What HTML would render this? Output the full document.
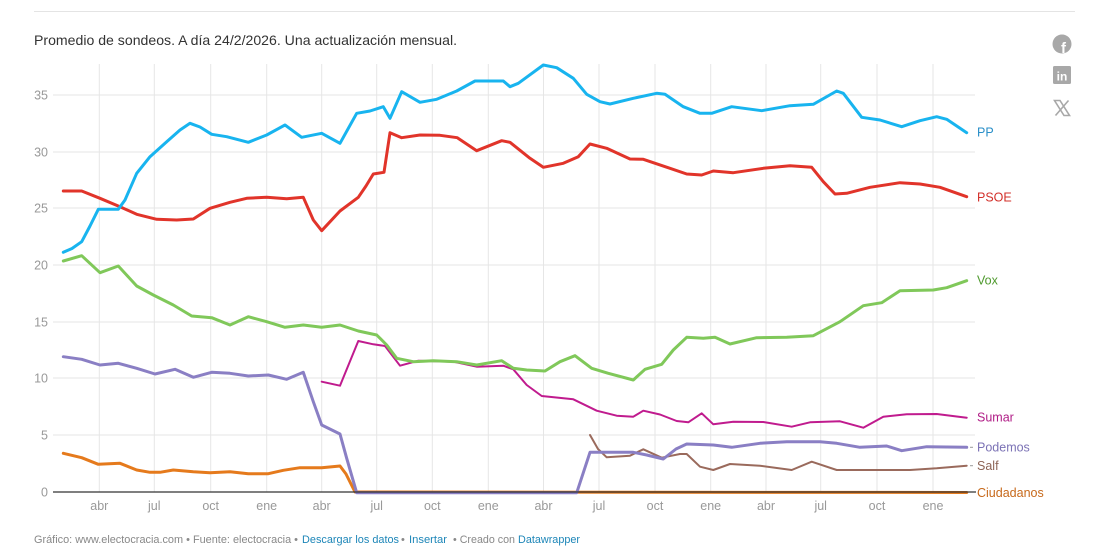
<!DOCTYPE html>
<html><head><meta charset="utf-8">
<style>
html,body{margin:0;padding:0;background:#fff;}
body{width:1119px;height:551px;overflow:hidden;}
svg{display:block;font-family:"Liberation Sans",Arial,sans-serif;}
.g{stroke:#e6e6e6;stroke-width:1;fill:none;}
.ax{fill:#999;font-size:12.5px;}
.ln{fill:none;stroke-linejoin:round;stroke-linecap:round;}
.lb{font-size:12.5px;}
</style></head>
<body>
<svg width="1119" height="551" viewBox="0 0 1119 551" xmlns="http://www.w3.org/2000/svg">
<line x1="34" y1="11.5" x2="1075" y2="11.5" stroke="#e4e4e4" stroke-width="1"/>
<text x="34" y="45" font-size="14" fill="#333" textLength="423" lengthAdjust="spacingAndGlyphs">Promedio de sondeos. A día 24/2/2026. Una actualización mensual.</text>

<!-- icons -->
<circle cx="1062" cy="44" r="9.5" fill="#a8a8a8"/>
<text x="1063.5" y="53" font-size="15" font-weight="bold" fill="#fff" text-anchor="middle">f</text>
<rect x="1053" y="66" width="18" height="18" rx="1.5" fill="#a8a8a8"/>
<text x="1062" y="80.5" font-size="12" font-weight="bold" fill="#fff" text-anchor="middle">in</text>
<g fill="none" stroke="#a8a8a8">
<path d="M1054.5,100.5 L1060,100.5 L1069.5,115.5 L1064,115.5 Z" stroke-width="1.6"/>
<line x1="1068.5" y1="100.5" x2="1055.5" y2="115.5" stroke-width="1.6"/>
</g>

<!-- horizontal grid -->
<g class="g">
<line x1="53" y1="95" x2="975" y2="95"/>
<line x1="53" y1="152" x2="975" y2="152"/>
<line x1="53" y1="208" x2="975" y2="208"/>
<line x1="53" y1="265" x2="975" y2="265"/>
<line x1="53" y1="322" x2="975" y2="322"/>
<line x1="53" y1="378" x2="975" y2="378"/>
<line x1="53" y1="435" x2="975" y2="435"/>
</g>
<!-- vertical grid -->
<g class="g">
<line x1="99.3" y1="64" x2="99.3" y2="492"/>
<line x1="154.3" y1="64" x2="154.3" y2="492"/>
<line x1="210.7" y1="64" x2="210.7" y2="492"/>
<line x1="266.7" y1="64" x2="266.7" y2="492"/>
<line x1="321.7" y1="64" x2="321.7" y2="492"/>
<line x1="376.7" y1="64" x2="376.7" y2="492"/>
<line x1="432.3" y1="64" x2="432.3" y2="492"/>
<line x1="488.3" y1="64" x2="488.3" y2="492"/>
<line x1="543.5" y1="64" x2="543.5" y2="492"/>
<line x1="599" y1="64" x2="599" y2="492"/>
<line x1="655" y1="64" x2="655" y2="492"/>
<line x1="710.7" y1="64" x2="710.7" y2="492"/>
<line x1="766" y1="64" x2="766" y2="492"/>
<line x1="820.7" y1="64" x2="820.7" y2="492"/>
<line x1="877" y1="64" x2="877" y2="492"/>
<line x1="933" y1="64" x2="933" y2="492"/>
</g>

<!-- y labels -->
<g class="ax" text-anchor="end">
<text x="48" y="99.5">35</text>
<text x="48" y="156.5">30</text>
<text x="48" y="212.5">25</text>
<text x="48" y="269.5">20</text>
<text x="48" y="326.5">15</text>
<text x="48" y="382.5">10</text>
<text x="48" y="439.5">5</text>
<text x="48" y="496.5">0</text>
</g>
<!-- x labels -->
<g class="ax" text-anchor="middle">
<text x="99.3" y="510">abr</text>
<text x="154.3" y="510">jul</text>
<text x="210.7" y="510">oct</text>
<text x="266.7" y="510">ene</text>
<text x="321.7" y="510">abr</text>
<text x="376.7" y="510">jul</text>
<text x="432.3" y="510">oct</text>
<text x="488.3" y="510">ene</text>
<text x="543.5" y="510">abr</text>
<text x="599" y="510">jul</text>
<text x="655" y="510">oct</text>
<text x="710.7" y="510">ene</text>
<text x="766" y="510">abr</text>
<text x="820.7" y="510">jul</text>
<text x="877" y="510">oct</text>
<text x="933" y="510">ene</text>
</g>

<!-- Ciudadanos -->
<polyline class="ln" stroke="#e57a1c" stroke-width="3" points="63.3,453.3 81.7,457.7 98.3,464.3 120,463.3 136.7,470 150,472.3 160,472.3 173.3,470 193.3,471.7 210,472.7 230,471.7 248.3,473.7 268.3,473.7 283.3,470.3 300,467.7 321.7,467.7 340,466 346,474 355,492 966.7,492.5"/>
<!-- Salf -->
<polyline class="ln" stroke="#9a6a5c" stroke-width="2" points="590,435 598,449 606.7,457.3 630,455.7 643.3,449.3 661.7,457.7 680,454 686.7,454 700,466.7 713.3,470 730,464 760,465.7 791.7,470 811.7,461.7 836.7,470 876.7,470 910,470 936.7,468.3 966.7,465.7"/>
<!-- Podemos -->
<polyline class="ln" stroke="#8a7fc4" stroke-width="3" points="63.3,356.7 81.7,359.3 100,365 118.3,363.3 136.7,368.3 155,374 175,369.3 193.3,377.3 211.7,372.3 230,373.3 248.3,376 268.3,375 286.7,379.3 303.3,372.3 313.3,401.7 321.7,425 340,434 346.7,458.3 356.7,492.8 576.7,492.8 590,452.3 633.3,452.3 646.7,455 663.3,459 676,449 686.7,444 713.3,445 731.7,447.3 760,443.3 786.7,441.7 820,441.7 836.7,443.3 860,447.3 886.7,446 901.7,450.7 926.7,446.7 966.7,447.3"/>
<!-- Sumar -->
<polyline class="ln" stroke="#c01b8e" stroke-width="2" points="321.7,381.7 340,385.7 358.3,341 373.3,344.3 385,346 400,365.7 418.3,360.7 453.3,361.7 476.7,366.7 503.3,365.7 513.3,369.3 526.7,385 541.7,396 573.3,399.3 596.7,410.7 616.7,415.7 633.3,416.7 643.3,410.7 660,414.5 676.7,421 688.3,422.3 701.7,413.3 713.3,424.3 733.3,421.7 763.3,422 791.7,426.7 810,422.3 840,421.3 863.3,427.7 883.3,416.7 906.7,414.3 936.7,414 966.7,417.7"/>
<!-- Vox -->
<polyline class="ln" stroke="#80c85a" stroke-width="3" points="63.3,261 81.7,255.7 100,272.7 118.3,266 136.7,286 153.3,295 173.3,305 191.7,316 211.7,317.7 230,325 248.3,316.7 266.7,321.7 285,327.3 303.3,325 321.7,327.3 340,325 358.3,331 376.7,335 386.7,345 396.7,358.3 413.3,361.7 433.3,360.7 456.7,361.7 476.7,365 501.7,360.7 513.3,368.3 526.7,370 545,371 560,361.7 575,355.7 591.7,368.3 608.3,373.3 633.3,380 645,369.3 661.7,364.3 673.3,350 686.7,337.3 703.3,338.3 715,337.3 730,344 756.7,337.7 786.7,337.3 813.3,335.7 840,321.7 863.3,305.7 881.7,302.7 900,290.7 933.3,290 946.7,287.7 966.7,280.7"/>
<!-- PSOE -->
<polyline class="ln" stroke="#e1342a" stroke-width="3" points="63.3,191 81.7,191 100,198.3 120,206.7 136.7,214.3 156.7,219.3 176.7,220 193.3,219 210,208.3 230,202.3 246.7,198.3 266.7,197.3 286.7,198.7 303.3,197.3 313.3,220 321.7,230.7 340,211 358.3,197.3 366,186 373.3,174 384,172.3 390,132.7 401.7,137.7 420,135 440,135.3 457.3,137.7 476.7,150.7 501.7,140.7 510,142.3 530,158.3 543.3,167.3 563.3,163.3 578.3,156.7 590,144 606.7,148.3 630,159 643.3,159.3 670,168.3 686.7,174 701.7,175 713.3,171 733.3,172.7 763.3,168.3 790,165.7 811.7,167.3 823.3,181.7 835,194 846.7,193.3 870,187.3 900,182.7 920,184 940,187.3 966.7,196.7"/>
<!-- PP -->
<polyline class="ln" stroke="#18b4ef" stroke-width="3" points="63.3,252.3 72,248.5 81.7,241.7 90,226 98.3,209.3 118.3,209.3 125,200 136.7,173.3 150,156.7 166.7,141.7 180,130 190,123.3 200,127 211.7,134.3 226.7,136.7 248.3,142.3 266.7,135 285,125 301.7,137.3 321.7,133.3 340,143.3 356.7,113.3 370,111 383.3,106.7 390,118.3 401.7,91.7 420,102.3 436.7,99.3 456.7,91 475,81 503.3,81 510,86.7 518.3,83.3 543.3,65 556.7,67.7 573.3,78.3 586.7,94.3 600,101.7 610,104 633.3,98.3 656.7,93.3 665,94.3 683.3,106.7 700,113.3 711.7,113.3 731.7,106.7 761.7,110.7 790,105.7 813.3,104.3 836.7,91 843.3,93.3 861.7,117.3 880,120 901.7,126.7 920,120.7 936.7,116.7 946.7,119.3 966.7,132.7"/>

<!-- zero baseline -->
<line x1="53" y1="492" x2="976" y2="492" stroke="#333" stroke-width="1.2"/>

<!-- connectors -->
<line x1="970" y1="447.3" x2="973" y2="447.3" stroke="#999" stroke-width="1"/>
<line x1="970" y1="465.7" x2="973" y2="465.7" stroke="#999" stroke-width="1"/>

<!-- labels -->
<g class="lb">
<text x="977" y="136.5" fill="#2a8fc8">PP</text>
<text x="977" y="201.5" fill="#d3302a">PSOE</text>
<text x="977" y="284.5" fill="#4f9a2e">Vox</text>
<text x="977" y="421.5" fill="#b01c86">Sumar</text>
<text x="977" y="451.5" fill="#7b72b5">Podemos</text>
<text x="977" y="470" fill="#8d6456">Salf</text>
<text x="977" y="497" fill="#c7691b">Ciudadanos</text>
</g>

<!-- footer -->
<g font-size="11">
<text x="34" y="543" fill="#888" textLength="264" lengthAdjust="spacingAndGlyphs">Gráfico: www.electocracia.com • Fuente: electocracia •</text>
<text x="302" y="543" fill="#1d86b8" textLength="97" lengthAdjust="spacingAndGlyphs">Descargar los datos</text>
<text x="401" y="543" fill="#888">•</text>
<text x="409" y="543" fill="#1d86b8" textLength="38" lengthAdjust="spacingAndGlyphs">Insertar</text>
<text x="453" y="543" fill="#888" textLength="62" lengthAdjust="spacingAndGlyphs">• Creado con</text>
<text x="518" y="543" fill="#1d86b8" textLength="62" lengthAdjust="spacingAndGlyphs">Datawrapper</text>
</g>
</svg>
</body></html>
